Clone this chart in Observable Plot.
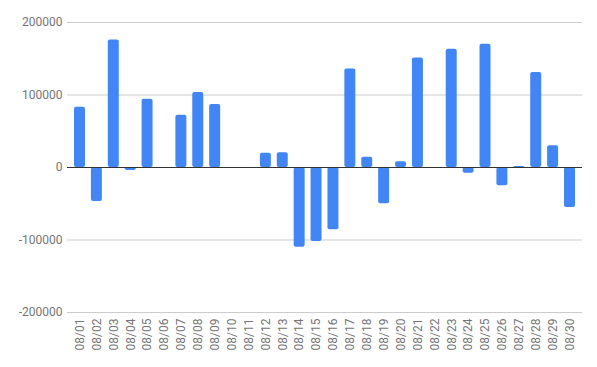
<!DOCTYPE html>
<html>
<head>
<meta charset="utf-8">
<script src="https://cdn.jsdelivr.net/npm/d3@7"></script>
<script src="https://cdn.jsdelivr.net/npm/@observablehq/plot@0.6"></script>
<style>
  html, body { margin: 0; padding: 0; background: #fff; }
  #chart svg { display: block; }
</style>
</head>
<body>
<div id="chart"></div>
<script>
const dates = ["08/01","08/02","08/03","08/04","08/05","08/06","08/07","08/08","08/09","08/10",
               "08/11","08/12","08/13","08/14","08/15","08/16","08/17","08/18","08/19","08/20",
               "08/21","08/22","08/23","08/24","08/25","08/26","08/27","08/28","08/29","08/30"];
const values = [83000, -47000, 176000, -4000, 94000, 0, 72000, 103500, 87000, 0,
                0, 19500, 20500, -110000, -102000, -86000, 136000, 14000, -50000, 8000,
                151000, 0, 163000, -8000, 170000, -25000, 1500, 131000, 30000, -55000];
const yTicks = [-200000, -100000, 0, 100000, 200000];

const data = dates.map((d, i) => ({date: d, value: values[i]}));

const chart = Plot.plot({
  width: 597,
  height: 367,
  marginLeft: 74,
  marginRight: 22,
  marginTop: 22,
  marginBottom: 55,
  style: {fontFamily: "Roboto, sans-serif", fontSize: "12px", color: "#757575", background: "#fff"},
  x: {domain: dates, paddingInner: 0.35, paddingOuter: 0, round: false, label: null, tickSize: 0, tickRotate: -90, tickPadding: 6},
  y: {domain: [-200000, 200000], ticks: yTicks, label: null, tickSize: 0, tickPadding: 12, tickFormat: d => String(d)},
  marks: [
    Plot.ruleY(yTicks.filter(t => t !== 0), {stroke: "#cccccc", strokeWidth: 1, insetLeft: -7, insetRight: -7}),
    Plot.barY(data, {x: "date", y: "value", fill: "#4285f4", rx: 2}),
    Plot.ruleY([0], {stroke: "#333333", strokeWidth: 1, insetLeft: -7, insetRight: -7})
  ]
});
document.getElementById("chart").appendChild(chart);
</script>
</body>
</html>
